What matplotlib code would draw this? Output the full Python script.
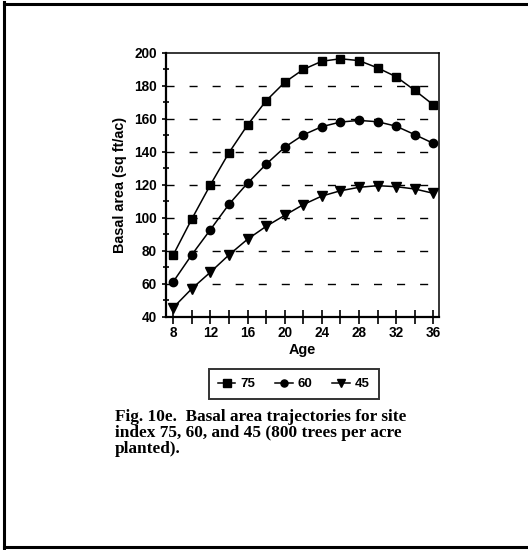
import numpy as np
import matplotlib
matplotlib.use("Agg")
import matplotlib.pyplot as plt
from matplotlib.lines import Line2D

age = [8, 10, 12, 14, 16, 18, 20, 22, 24, 26, 28, 30, 32, 34, 36]
si75 = [77.5, 99.3, 120, 139.5, 156.3, 171, 182.2, 190, 195, 196.5, 195.4, 191, 185.6, 177.4, 168.6]
si60 = [61.2, 77.6, 92.8, 108.2, 121, 132.5, 142.8, 150.3, 155.3, 158.1, 159.1, 158.3, 155.6, 150.5, 145.2]
si45 = [45.5, 57, 67, 77.5, 87, 94.8, 101.5, 108, 113.2, 116.4, 118.5, 119.5, 118.9, 117.5, 114.9]
labels = ["75", "60", "45"]
caption = ("Fig. 10e.  Basal area trajectories for site\n"
           "index 75, 60, and 45 (800 trees per acre\n"
           "planted).")

plt.rcParams['font.family'] = ['Liberation Sans', 'DejaVu Sans']

fig = plt.figure(figsize=(5.28, 5.5), dpi=100)
ax = fig.add_axes([166/528, 1-316.7/550, (439-166)/528, (316.7-53)/550])

ax.plot(age, si75, color='black', lw=1.1, marker='s', ms=6, label=labels[0])
ax.plot(age, si60, color='black', lw=1.1, marker='o', ms=6, label=labels[1])
ax.plot(age, si45, color='black', lw=1.1, marker='v', ms=7, label=labels[2])

for yv in [60, 80, 100, 120, 140, 160, 180]:
    ax.axhline(yv, color='black', lw=1.0, linestyle=(0, (5.8, 10.8)), zorder=0)

ax.set_xlim(7.22, 36.62)
ax.set_ylim(40, 200)
ax.set_xticks(age)
ax.set_xticklabels([str(a) if a % 4 == 0 else "" for a in age])
ax.set_yticks(np.arange(40, 201, 20))
ax.set_yticks(np.arange(50, 200, 20), minor=True)

ax.tick_params(axis='x', direction='inout', length=10, width=1.2, labelsize=9.8, pad=2)
ax.tick_params(axis='y', which='major', direction='out', length=3, width=1.2, labelsize=9.8, pad=3.5)
ax.tick_params(axis='y', which='minor', direction='inout', length=4, width=1.2)
for lab in ax.get_xticklabels() + ax.get_yticklabels():
    lab.set_fontweight('bold')

ax.spines['left'].set_linewidth(1.6)
ax.spines['bottom'].set_linewidth(1.6)
ax.spines['top'].set_linewidth(1.1)
ax.spines['right'].set_linewidth(1.1)

ax.set_xlabel("Age", fontsize=10.4, fontweight='bold', labelpad=2)
ax.set_ylabel("Basal area (sq ft/ac)", fontsize=10.4, fontweight='bold', labelpad=5)

leg = fig.legend(loc='center', bbox_to_anchor=(294/528, 1-384/550), ncol=3,
                 frameon=True, fancybox=False, handlelength=1.3, handletextpad=0.4,
                 columnspacing=1.5, borderpad=0.7, markerscale=0.85,
                 prop={'weight': 'bold', 'size': 9.5})
leg.get_frame().set_edgecolor('black')
leg.get_frame().set_linewidth(1.4)

fig.text(115/528, 1-409/550, caption, ha='left', va='top', family='Liberation Serif',
         fontweight='bold', fontsize=12.4, linespacing=0.98)

# page border: left, top and bottom only
for xs, ys in [((3.5, 3.5), (1.5, 548.5)), ((3.5, 528), (546.5, 546.5)), ((3.5, 528), (3.5, 3.5))]:
    fig.add_artist(Line2D([x/528 for x in xs], [y/550 for y in ys], color='black', lw=2.2,
                          transform=fig.transFigure))

fig.savefig("out.png", dpi=100)
